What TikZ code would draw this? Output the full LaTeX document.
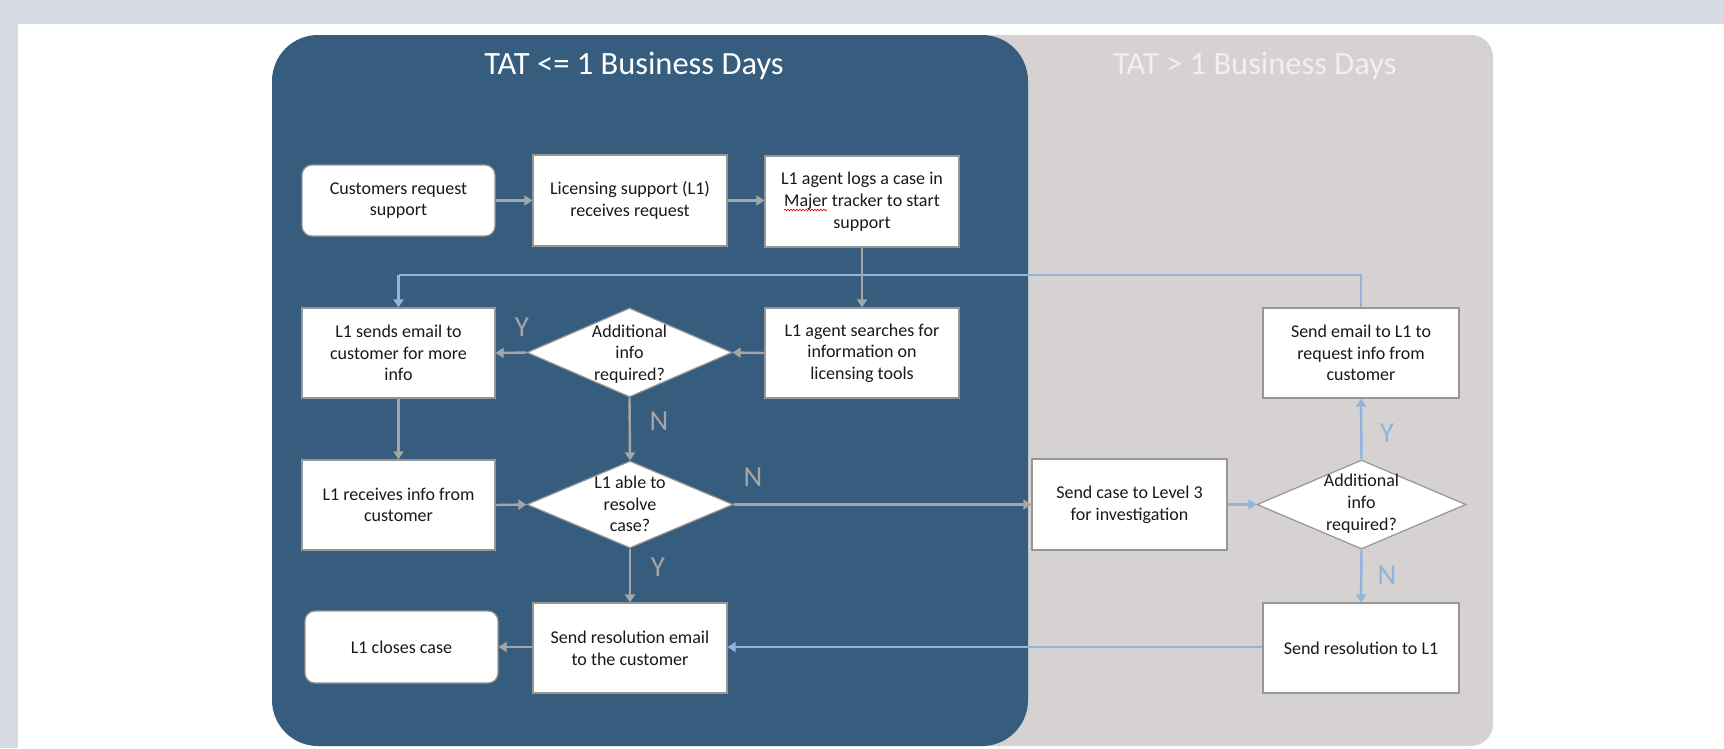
\documentclass[tikz,border=0pt]{standalone}
\usepackage{fontspec}
\setmainfont{Carlito}
\usetikzlibrary{shapes.geometric,arrows.meta,decorations.pathmorphing}
\definecolor{bandc}{RGB}{214,218,228}
\definecolor{bluep}{RGB}{54,93,126}
\definecolor{grayp}{RGB}{214,210,209}
\definecolor{boxline}{RGB}{150,150,150}
\definecolor{conng}{RGB}{166,166,166}
\definecolor{connb}{RGB}{143,180,222}
\definecolor{titleg}{RGB}{241,239,239}
\definecolor{txt}{RGB}{25,25,25}
\begin{document}
\begin{tikzpicture}[x=1pt,y=-1pt,
  box/.style={draw=boxline, line width=1.2pt, fill=white, inner sep=0pt, align=center, text=txt, font=\fontsize{18}{21.7}\selectfont},
  rbox/.style={box, rounded corners=10pt},
  sz/.style 2 args={minimum width=#1, minimum height=#2},
  dia/.style={diamond, draw=boxline, line width=1.2pt, fill=white, inner sep=0pt, shape aspect=1.6},
  diatext/.style={align=center, text=txt, inner sep=0pt, font=\fontsize{18}{21.7}\selectfont},
  gconn/.style={draw=conng, line width=2.4pt, -{Triangle[length=8pt,width=10pt]}},
  bconn/.style={draw=connb, line width=2.4pt, -{Triangle[length=8pt,width=10pt]}},
  bline/.style={draw=connb, line width=2.4pt},
  glab/.style={text=conng, font=\fontsize{29}{30}\selectfont, inner sep=0pt},
  blab/.style={text=connb, font=\fontsize{29}{30}\selectfont, inner sep=0pt},
  ttl/.style={font=\fontsize{32.5}{36}\selectfont, inner sep=0pt, anchor=base}
]
\useasboundingbox (0,0) rectangle (1724,748);
\fill[white] (0,0) rectangle (1724,748);
\fill[bandc] (0,0) rectangle (1724,24);
\fill[bandc] (0,0) rectangle (18,748);
% panels
\fill[grayp, rounded corners=22pt] (900,35) rectangle (1493,746);
\fill[bluep, rounded corners=46pt] (272,35) rectangle (1028,746);
\node[ttl, text=white] (t1) at (634,74) {TAT <= 1 Business Days};
\node[ttl, text=titleg] (t2) at (1255,74) {TAT > 1 Business Days};
% nodes
\node[rbox, sz={193pt}{71pt}] (c1) at (398.5,200.5) {Customers request\\support};
\node[box, sz={194pt}{91pt}] (c2) at (630,200.5) {Licensing support (L1)\\receives request};
\node[box, sz={194pt}{91pt}] (c3) at (862,201.5) {L1 agent logs a case in\\Majer tracker to start\\support};
\node[box, sz={193pt}{90pt}] (s1) at (398.5,353) {L1 sends email to\\customer for more\\info};
\node[dia, sz={205pt}{89pt}] (d1) at (629.5,352.5) {};
\node[diatext] (d1t) at (629.5,354) {Additional\\info\\required?};
\node[box, sz={194pt}{90pt}] (s2) at (862,353) {L1 agent searches for\\information on\\licensing tools};
\node[box, sz={193pt}{90pt}] (r1) at (398.5,505) {L1 receives info from\\customer};
\node[dia, sz={206pt}{87pt}] (d2) at (630,504.5) {};
\node[diatext] (d2t) at (630,504) {L1 able to\\resolve\\case?};
\node[box, sz={194pt}{90pt}] (e1) at (630,648) {Send resolution email\\to the customer};
\node[rbox, sz={193pt}{72pt}] (k1) at (401.5,647) {L1 closes case};
\node[box, sz={195pt}{91pt}] (l3) at (1129.5,504.5) {Send case to Level 3\\for investigation};
\node[dia, sz={209pt}{89pt}] (d3) at (1361.5,504.5) {};
\node[diatext] (d3t) at (1361.5,503.5) {Additional\\info\\required?};
\node[box, sz={196pt}{90pt}] (m1) at (1361,353) {Send email to L1 to\\request info from\\customer};
\node[box, sz={196pt}{90pt}] (m2) at (1361,648) {Send resolution to L1};
% spell-check wave under Majer
\draw[red!85!black, line width=0.6pt, decorate, decoration={snake, amplitude=0.9pt, segment length=3pt}] (784,210) -- (827,210);
% blue loop
\coordinate (loopR) at (1361,275);
\coordinate (loopL) at (398.5,275);
\draw[bline] (m1.north) -- (loopR) -- (loopL);
\draw[bconn] (loopL) -- (s1.north);
\draw[bconn] (l3.east) -- (d3.west);
\draw[bconn] (d3.north) -- (m1.south);
\draw[bconn] (d3.south) -- (m2.north);
\draw[bconn] (m2.west |- 0,647) -- (e1.east |- 0,647);
% gray connectors
\draw[gconn] (c1.east |- c2.west) -- (c2.west);
\draw[gconn] (c2.east) -- (c3.west |- c2.east);
\draw[gconn] (c3.south) -- (s2.north);
\draw[gconn] (s2.west) -- (d1.east);
\draw[gconn] (d1.west) -- (s1.east);
\draw[gconn] (s1.south) -- (r1.north);
\draw[gconn] (d1.south) -- (d2.north);
\draw[gconn] (r1.east) -- (d2.west);
\draw[gconn] (d2.south) -- (e1.north);
\draw[gconn] (e1.west |- 0,647) -- (k1.east |- 0,647);
\draw[gconn] (d2.east) -- (l3.west);
% labels
\node[glab] (ly1) at (522,327) {Y};
\node[glab] (ln1) at (659,421) {N};
\node[glab] (ln2) at (753,477) {N};
\node[glab] (ly2) at (658,567) {Y};
\node[blab] (ly3) at (1387,433) {Y};
\node[blab] (ln3) at (1387,575) {N};
\end{tikzpicture}
\end{document}
